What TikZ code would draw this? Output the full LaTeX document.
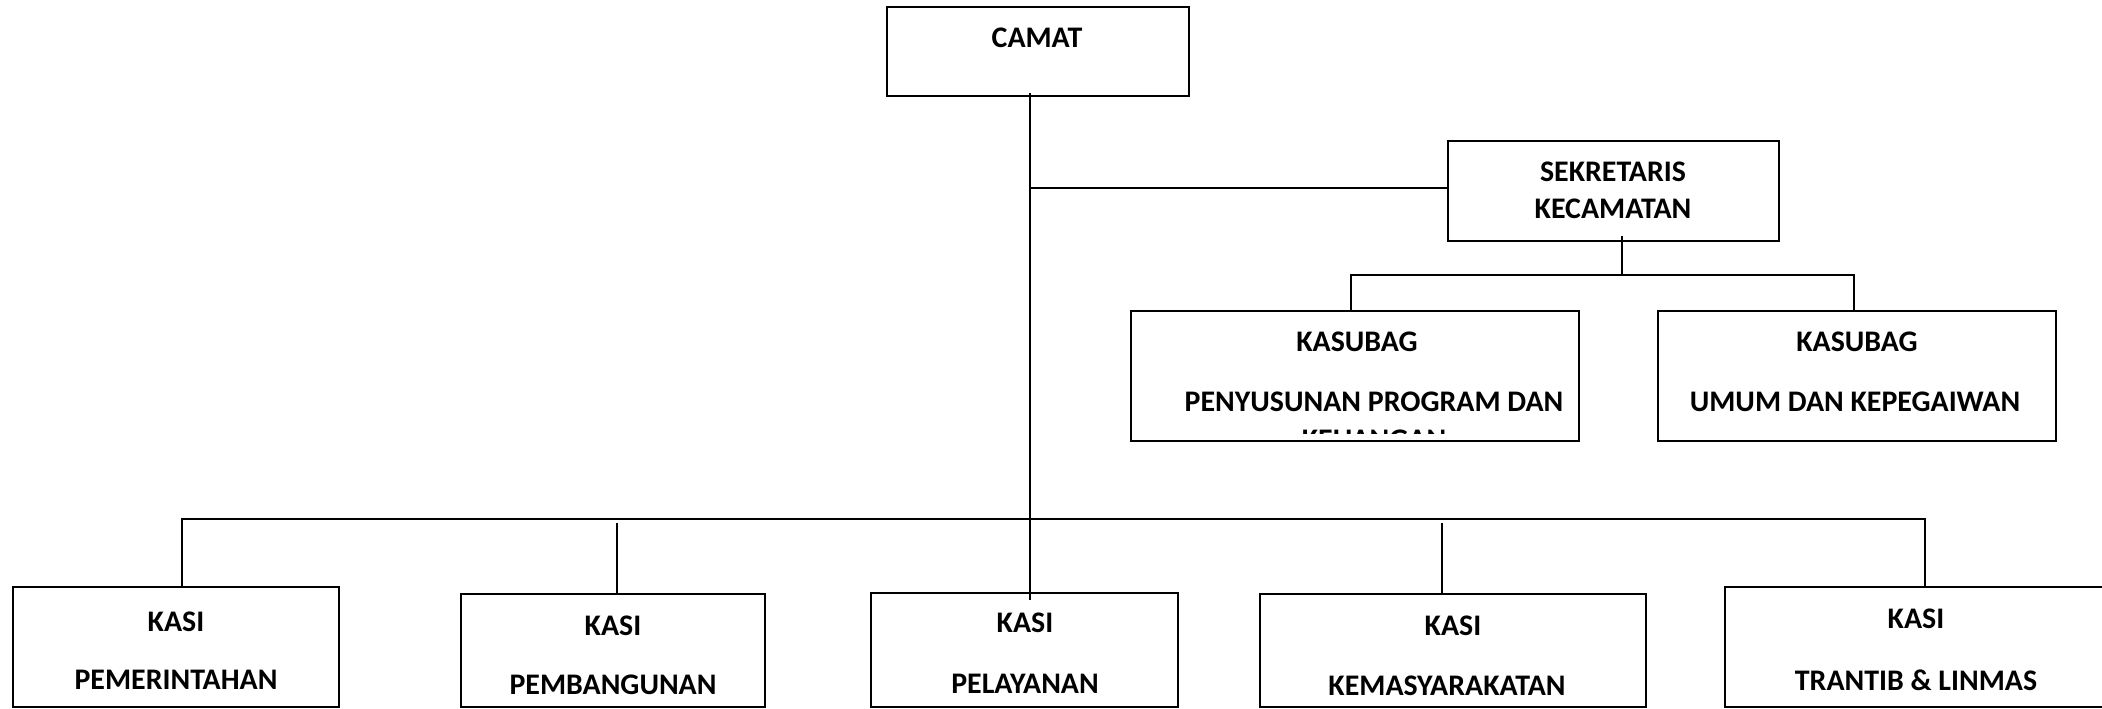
\documentclass[tikz,border=0pt]{standalone}
\usepackage{fontspec}
\setmainfont{Carlito}
\usetikzlibrary{fit}

\tikzset{
  orgbox/.style={draw, line width=.7pt, inner sep=0pt},
  orgtext/.style={font=\fontsize{8.5}{9}\selectfont\bfseries, inner sep=0pt},
  link/.style={line width=.6pt}
}

\begin{document}
\begin{tikzpicture}[x=0.01cm,y=-0.01cm]
\clip (0,0) rectangle (2102,709);

% boxes
\node[orgbox, fit={(887,7) (1189,96)}] (camat) {};
\node[orgbox, fit={(1448,141) (1779,241)}] (sekcam) {};
\node[orgbox, fit={(1131,311) (1579,441)}] (kasubagpp) {};
\node[orgbox, fit={(1658,311) (2056,441)}] (kasubagum) {};
\node[orgbox, fit={(13,587) (339,707)}] (kasipem) {};
\node[orgbox, fit={(461,594) (765,707)}] (kasipbg) {};
\node[orgbox, fit={(871,593) (1178,707)}] (kasipel) {};
\node[orgbox, fit={(1260,594) (1646,707)}] (kasikem) {};
\node[orgbox, fit={(1725,587) (2107,707)}] (kasitrt) {};

% texts
\node[orgtext] (camat-t) at (1037,37.5) {CAMAT};
\node[orgtext] (sekcam-t1) at (1613,172) {SEKRETARIS};
\node[orgtext] (sekcam-t2) at (1613,209) {KECAMATAN};
\node[orgtext] (kasubagpp-t1) at (1357,342) {KASUBAG};
\node[orgtext] (kasubagpp-t2) at (1374,402) {PENYUSUNAN PROGRAM DAN};
\begin{scope}
  \clip (1131,424) rectangle (1579,433.5);
  \node[orgtext] (kasubagpp-t3) at (1374,439.5) {KEUANGAN};
\end{scope}
\node[orgtext] (kasubagum-t1) at (1857,342) {KASUBAG};
\node[orgtext] (kasubagum-t2) at (1855,402) {UMUM DAN KEPEGAIWAN};
\node[orgtext] (kasipem-t1) at (176,622) {KASI};
\node[orgtext] (kasipem-t2) at (176,680) {PEMERINTAHAN};
\node[orgtext] (kasipbg-t1) at (613,626) {KASI};
\node[orgtext] (kasipbg-t2) at (613,685) {PEMBANGUNAN};
\node[orgtext] (kasipel-t1) at (1025,623) {KASI};
\node[orgtext] (kasipel-t2) at (1025,684) {PELAYANAN};
\node[orgtext] (kasikem-t1) at (1453,626) {KASI};
\node[orgtext] (kasikem-t2) at (1447,686) {KEMASYARAKATAN};
\node[orgtext] (kasitrt-t1) at (1916,619) {KASI};
\node[orgtext] (kasitrt-t2) at (1916,680) {TRANTIB \& LINMAS};

% connectors
\coordinate (trunk) at (1030,93);
\coordinate (trunkend) at (1030,600);
\coordinate (sekjoin) at (1030,188);
\coordinate (subtop) at (1622,236);
\coordinate (ppdrop) at (1351,275);
\coordinate (umdrop) at (1854,275);
\coordinate (busl) at (182,519);
\coordinate (busr) at (1925,519);

\draw[link] (trunk) -- (trunkend);
\draw[link] (sekjoin) -- (sekjoin -| sekcam.west);
\draw[link] (subtop) -- (subtop |- ppdrop);
\draw[link] (kasubagpp.north -| ppdrop) -- (ppdrop) -- (umdrop) -- (kasubagum.north -| umdrop);
\draw[link] (kasipem.north -| busl) -- (busl) -- (busr) -- (kasitrt.north -| busr);
\draw[link] (617,523) -- (kasipbg.north -| 617,0);
\draw[link] (1442,523) -- (kasikem.north -| 1442,0);
\end{tikzpicture}
\end{document}
